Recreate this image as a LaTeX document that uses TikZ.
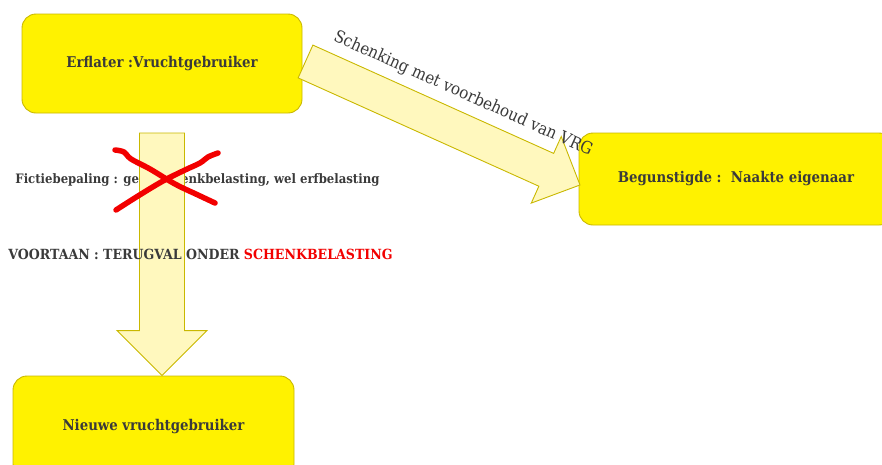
\documentclass[tikz,border=0pt]{standalone}
\usepackage{fontspec}
\setmainfont{DejaVu Serif Condensed}
\usetikzlibrary{calc}
\definecolor{boxfill}{HTML}{FFF200}
\definecolor{boxline}{HTML}{C9B800}
\definecolor{arrfill}{HTML}{FFF8BE}
\definecolor{arrline}{HTML}{C9B800}
\definecolor{txt}{HTML}{3A3A3A}
\definecolor{xred}{HTML}{F20000}
\begin{document}
\begin{tikzpicture}[x=1pt,y=-1pt,
  ybox/.style={draw=boxline, line width=0.9pt, fill=boxfill, rounded corners=14pt,
    text=txt, font=\bfseries\fontsize{14.8}{17}\selectfont, inner sep=0pt, anchor=center},
  blockarrow/.style={draw=arrline, line width=0.9pt, fill=arrfill, line join=miter},
  lbl/.style={text=txt, inner sep=0pt, anchor=center},
  cross/.style={draw=xred, line width=5.5pt, line cap=round, line join=round}]
\useasboundingbox (0,0) rectangle (882,464);
\clip (0,0) rectangle (882,464);

% boxes
\node[ybox, minimum width=280pt, minimum height=99pt] (erf) at (162,63.5) {Erflater :Vruchtgebruiker};
\node[ybox, minimum width=314pt, minimum height=92pt] (beg) at (736,179) {Begunstigde :\ \ Naakte eigenaar};
\node[ybox, minimum width=281pt, minimum height=102pt] (nieuw) at (153.5,427) {Nieuwe vruchtgebruiker};

% text behind the vertical arrow
\node[lbl, font=\bfseries\fontsize{13}{15}\selectfont] (fictie) at (197.5,180) {Fictiebepaling : geen schenkbelasting, wel erfbelasting};

% vertical block arrow
\coordinate (dtop) at (162,133);
\coordinate (dtip) at (dtop |- nieuw.north);
\draw[blockarrow] ($(dtop)+(-22.5,0)$) -- ($(dtop)+(22.5,0)$) -- ($(dtip)+(22.5,-45)$)
  -- ($(dtip)+(45,-45)$) -- (dtip) -- ($(dtip)+(-45,-45)$) -- ($(dtip)+(-22.5,-45)$) -- cycle;

% diagonal block arrow
\coordinate (atail) at (305.5,61.5);
\coordinate (atip) at (580,185);
\begin{scope}[shift={(atail)}, rotate=-24.22]
  \draw[blockarrow] (0,-18) -- (264,-18) -- (264,-36.5) -- (301,0) -- (264,36.5) -- (264,18) -- (0,18) -- cycle;
  \node[lbl, transform shape, font=\fontsize{16.8}{19}\selectfont] (schenk) at (157,-35) {Schenking met voorbehoud van VRG};
\end{scope}

% red cross
\draw[cross] plot[smooth, tension=0.6] coordinates {(115,150) (124,152) (131,159) (150,169) (175,184) (198,195) (215,203)};
\draw[cross] plot[smooth, tension=0.6] coordinates {(116,210) (138,196) (163,181) (185,170) (200,163) (208,157) (218,153)};

% voortaan text
\node[lbl, font=\bfseries\fontsize{14}{16}\selectfont] (voortaan) at (200.5,254) {VOORTAAN : TERUGVAL ONDER \textcolor{xred}{SCHENKBELASTING}};
\end{tikzpicture}
\end{document}
